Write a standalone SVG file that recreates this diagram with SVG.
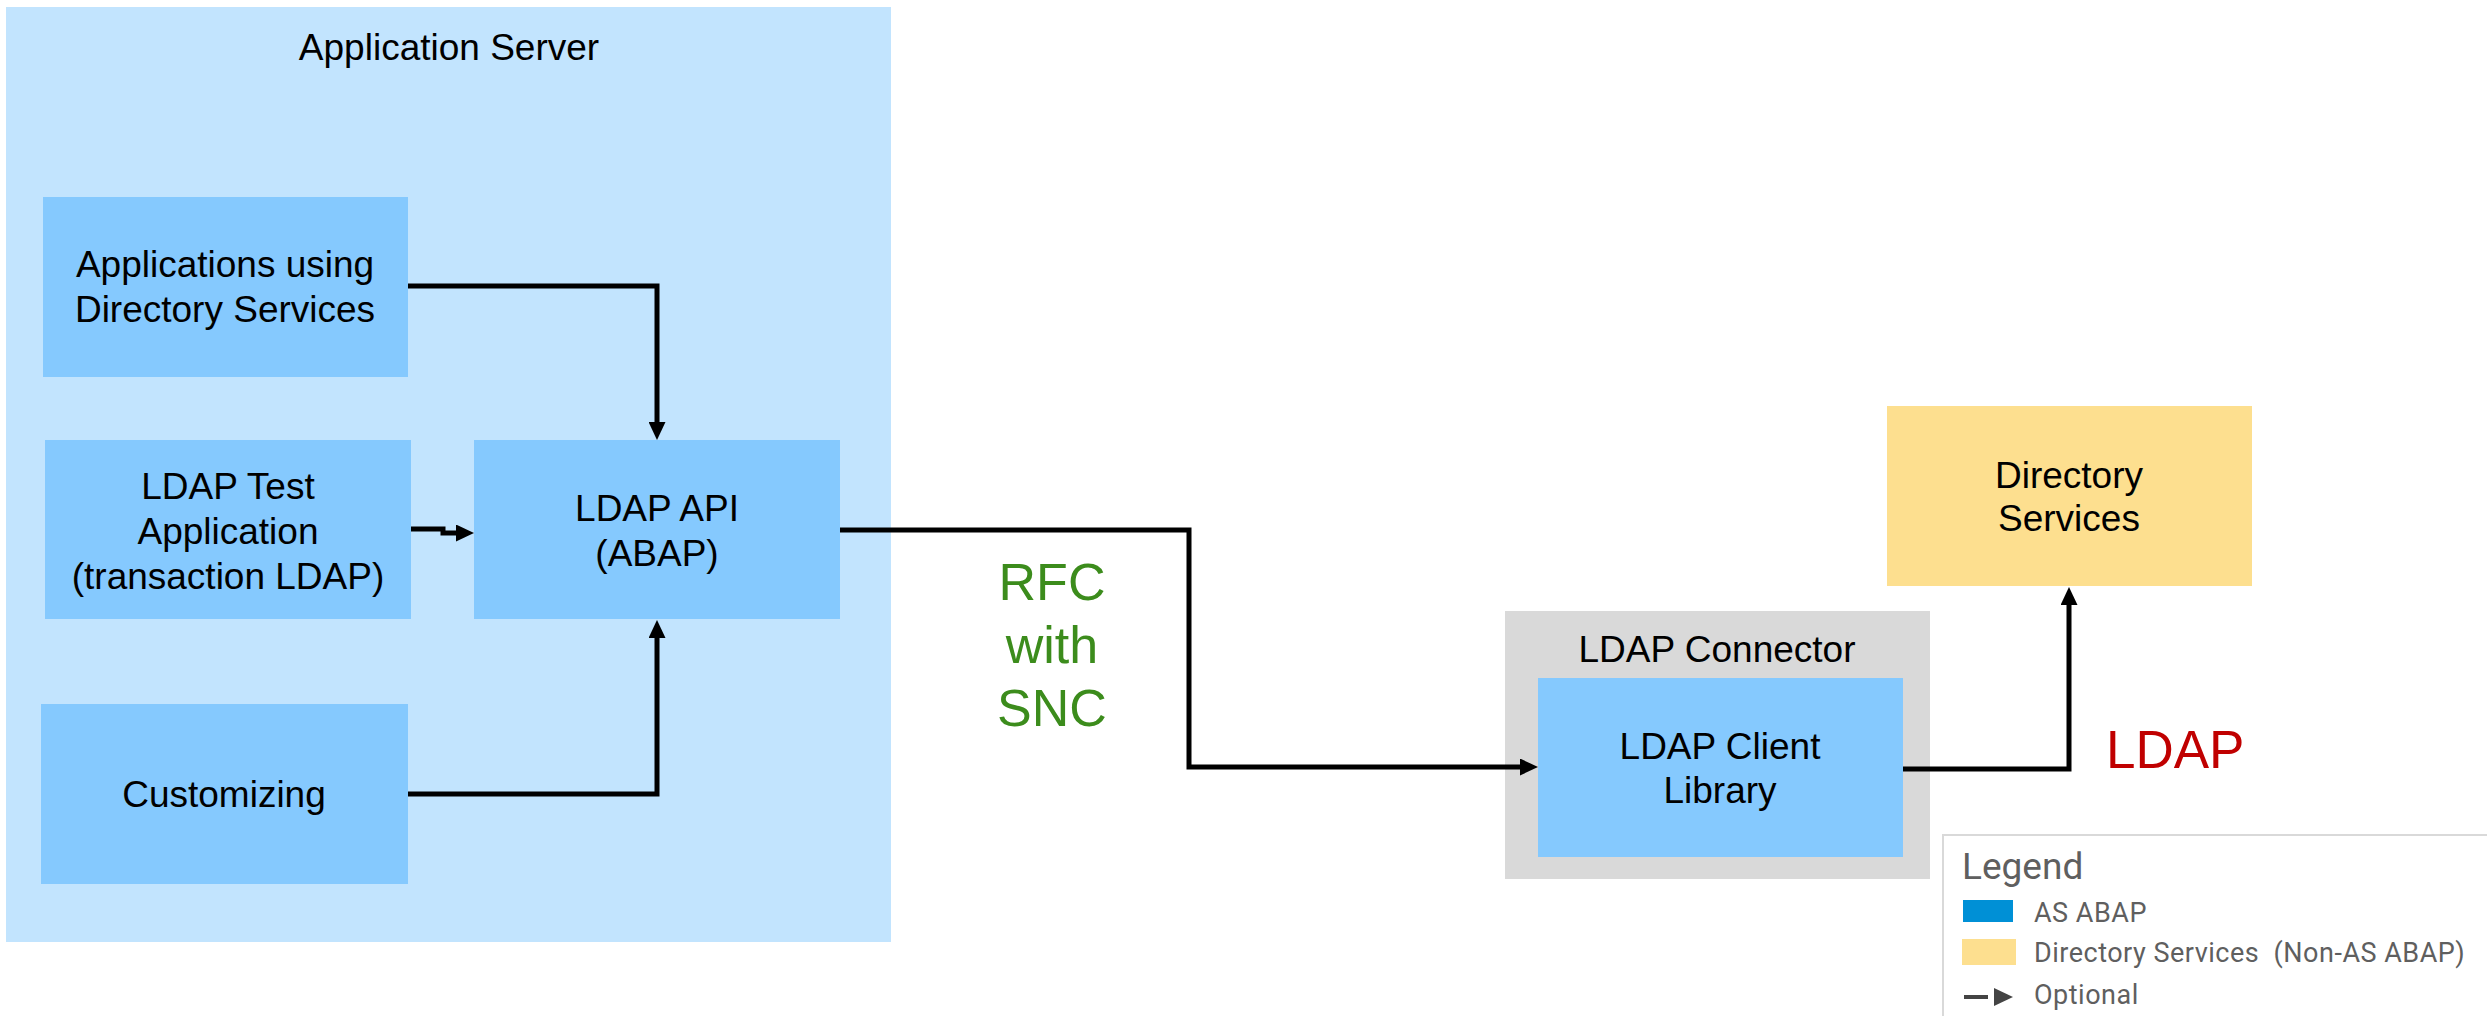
<svg xmlns="http://www.w3.org/2000/svg" width="2487" height="1016" viewBox="0 0 2487 1016">
<defs>
<style>
.t{font-family:"Liberation Sans",Arial,sans-serif;font-size:37px;fill:#000;text-anchor:middle}
.node{fill:#85c9fe}
.conn{fill:none;stroke:#000;stroke-width:5;stroke-linejoin:miter}
.lg{font-family:Roboto,"Liberation Sans",sans-serif;fill:#5f5f5f}
.li{font-size:27px;letter-spacing:0.5px}
</style>
<marker id="arr" markerUnits="userSpaceOnUse" markerWidth="18" markerHeight="17" refX="4" refY="8.5" orient="auto" viewBox="0 0 18 17">
<path d="M0,0 L18,8.5 L0,17 z" fill="#000"/>
</marker>
</defs>
<rect width="2487" height="1016" fill="#fff"/>

<g id="application-server">
<rect x="6" y="7" width="885" height="935" fill="#c2e4fe"/>
<text class="t" x="449" y="60">Application Server</text>
</g>

<g id="apps-using-ds">
<rect class="node" x="43" y="197" width="365" height="180"/>
<text class="t" x="225" y="277">Applications using</text>
<text class="t" x="225" y="322">Directory Services</text>
</g>

<g id="ldap-test-app">
<rect class="node" x="45" y="440" width="366" height="179"/>
<text class="t" x="228" y="499">LDAP Test</text>
<text class="t" x="228" y="544">Application</text>
<text class="t" x="228" y="589">(transaction LDAP)</text>
</g>

<g id="ldap-api">
<rect class="node" x="474" y="440" width="366" height="179"/>
<text class="t" x="657" y="521">LDAP API</text>
<text class="t" x="657" y="566">(ABAP)</text>
</g>

<g id="customizing">
<rect class="node" x="41" y="704" width="367" height="180"/>
<text class="t" x="224" y="807">Customizing</text>
</g>

<g id="ldap-connector">
<rect x="1505" y="611" width="425" height="268" fill="#d9d9d9"/>
<text class="t" x="1717" y="662">LDAP Connector</text>
</g>

<g id="ldap-client-library">
<rect class="node" x="1538" y="678" width="365" height="179"/>
<text class="t" x="1720" y="759">LDAP Client</text>
<text class="t" x="1720" y="803">Library</text>
</g>

<g id="directory-services">
<rect x="1887" y="406" width="365" height="180" fill="#fddf8f"/>
<text class="t" x="2069" y="488">Directory</text>
<text class="t" x="2069" y="531">Services</text>
</g>

<g id="connectors">
<path class="conn" d="M408,286 H657 V426" marker-end="url(#arr)"/>
<path class="conn" d="M411,529 H443 V533 H460" marker-end="url(#arr)"/>
<path class="conn" d="M408,794 H657 V634" marker-end="url(#arr)"/>
<path class="conn" d="M840,530 H1189 V767 H1524" marker-end="url(#arr)"/>
<path class="conn" d="M1903,769 H2069 V601" marker-end="url(#arr)"/>
</g>

<g id="labels">
<text x="1052" y="600" style="font-family:'Liberation Sans',Arial,sans-serif;font-size:52px;fill:#3c8c1c;text-anchor:middle">RFC</text>
<text x="1052" y="663" style="font-family:'Liberation Sans',Arial,sans-serif;font-size:52px;fill:#3c8c1c;text-anchor:middle">with</text>
<text x="1052" y="726" style="font-family:'Liberation Sans',Arial,sans-serif;font-size:52px;fill:#3c8c1c;text-anchor:middle">SNC</text>
<text x="2106" y="768" style="font-family:'Liberation Sans',Arial,sans-serif;font-size:53px;fill:#c00000">LDAP</text>
</g>

<g id="legend">
<rect x="1943" y="835" width="560" height="200" fill="#fff" stroke="#d9d9d9" stroke-width="2"/>
<text class="lg" x="1962" y="879" font-size="37">Legend</text>
<rect x="1963" y="900" width="50" height="22" fill="#0090d6"/>
<text class="lg li" x="2034" y="922">AS ABAP</text>
<rect x="1962" y="939" width="54" height="26" fill="#fddf8f"/>
<text class="lg li" x="2034" y="962" xml:space="preserve">Directory Services  (Non-AS ABAP)</text>
<line x1="1964" y1="997" x2="1988" y2="997" stroke="#444" stroke-width="4"/>
<path d="M1994,988 L2013,997 L1994,1006 z" fill="#444"/>
<text class="lg li" x="2034" y="1004">Optional</text>
</g>
</svg>
